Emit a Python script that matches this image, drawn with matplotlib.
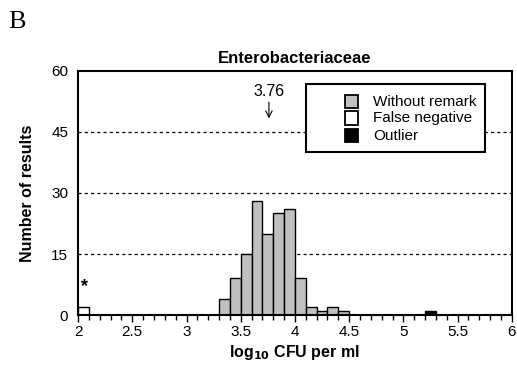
import matplotlib
matplotlib.use("Agg")
import matplotlib.pyplot as plt
from matplotlib.patches import Rectangle
import numpy as np

plt.rcParams['font.family'] = ['Liberation Sans', 'DejaVu Sans']

# histogram bins (left edges, width 0.1 log units)
bin_width = 0.1
normal_left = [3.3, 3.4, 3.5, 3.6, 3.7, 3.8, 3.9, 4.0, 4.1, 4.2, 4.3, 4.4]
normal_count = [4, 9, 15, 28, 20, 25, 26, 9, 2, 1, 2, 1]
falseneg_left = [2.0]
falseneg_count = [2]
outlier_left = [5.2]
outlier_count = [1]
median_value = 3.76

legend_labels = ['Without remark', 'False negative', 'Outlier']
legend_colors = ['#c0c0c0', 'white', 'black']

fig = plt.figure(figsize=(5.17, 3.69), dpi=100)
ax = fig.add_axes([0.151, 0.146, 0.839, 0.662])

for y in [15, 30, 45]:
    ax.axhline(y, color='black', lw=0.9, ls=(0, (2.5, 2.5)), zorder=1)

ax.bar(normal_left, normal_count, width=bin_width, align='edge',
       color=legend_colors[0], edgecolor='black', lw=1.0, zorder=2)
ax.bar(falseneg_left, falseneg_count, width=bin_width, align='edge',
       color=legend_colors[1], edgecolor='black', lw=1.0, zorder=2)
ax.bar(outlier_left, outlier_count, width=bin_width, align='edge',
       color=legend_colors[2], edgecolor='black', lw=1.0, zorder=2)

ax.text(2.06, 7.0, '*', ha='center', va='center', fontsize=13, fontweight='bold')

ax.annotate(str(median_value), xy=(median_value, 48.3), xytext=(median_value, 53.0),
            ha='center', va='bottom', fontsize=11.5,
            arrowprops=dict(arrowstyle='->', lw=0.8, color='black',
                            shrinkA=0, shrinkB=0))

ax.set_xlim(2, 6)
ax.set_ylim(0, 60)
ax.set_xticks(np.arange(2, 6.01, 0.5))
ax.set_xticklabels(['2', '2.5', '3', '3.5', '4', '4.5', '5', '5.5', '6'])
ax.set_xticks(np.arange(2, 6.01, 0.1), minor=True)
ax.set_yticks([0, 15, 30, 45, 60])
ax.tick_params(axis='x', which='major', direction='out', length=5, width=1, labelsize=11, pad=2)
ax.tick_params(axis='x', which='minor', direction='out', length=3.5, width=1)
ax.tick_params(axis='y', length=0, labelsize=11, pad=7)
for s in ax.spines.values():
    s.set_linewidth(1.5)

ax.set_title('Enterobacteriaceae', fontsize=12, fontweight='bold', pad=6)
ax.set_ylabel('Number of results', fontsize=11.5, fontweight='bold', labelpad=12)
ax.set_xlabel(r'log$_{\mathbf{10}}$ CFU per ml', fontsize=11.5, fontweight='bold', labelpad=3)

# legend box drawn by hand
ax.add_patch(Rectangle((0.525, 0.668), 0.413, 0.279, transform=ax.transAxes,
                       facecolor='white', edgecolor='black', lw=1.5, zorder=5))
rows_y = [0.874, 0.806, 0.735]
for yy, lab, col in zip(rows_y, legend_labels, legend_colors):
    ax.add_patch(Rectangle((0.615, yy - 0.028), 0.031, 0.056, transform=ax.transAxes,
                           facecolor=col, edgecolor='black', lw=1.3, zorder=6))
    ax.text(0.68, yy, lab, transform=ax.transAxes, fontsize=11, va='center',
            ha='left', zorder=7)

fig.text(0.015, 0.97, 'B', fontsize=19, family='Liberation Serif', va='top', ha='left')

fig.savefig('out.png', dpi=100)
